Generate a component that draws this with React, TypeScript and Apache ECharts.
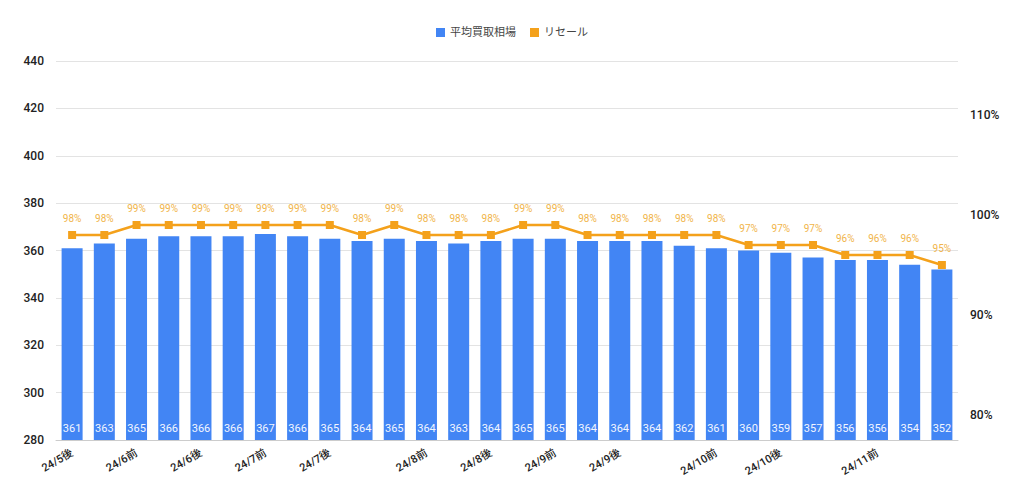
import React, { useEffect, useRef } from "react";
import * as echarts from "echarts";

const categories = [
  "24/5後", "24/5後", "24/6前", "24/6前", "24/6後", "24/6後", "24/7前", "24/7前",
  "24/7後", "24/7後", "24/7後", "24/8前", "24/8前", "24/8後", "24/8後", "24/9前",
  "24/9前", "24/9後", "24/9後", "24/9後", "24/10前", "24/10前", "24/10後", "24/10後",
  "24/10後", "24/11前", "24/11前", "24/11前",
];
const avgPrice = [
  361, 363, 365, 366, 366, 366, 367, 366, 365, 364, 365, 364, 363, 364,
  365, 365, 364, 364, 364, 362, 361, 360, 359, 357, 356, 356, 354, 352,
];
const resale = [
  98, 98, 99, 99, 99, 99, 99, 99, 99, 98, 99, 98, 98, 98,
  99, 99, 98, 98, 98, 98, 98, 97, 97, 97, 96, 96, 96, 95,
];
const leftTicks = [280, 300, 320, 340, 360, 380, 400, 420, 440];
const rightTicks = [80, 90, 100, 110];

const BLUE = "#4285f4";
const ORANGE = "#f4a11b";

export default function App() {
  const ref = useRef<HTMLDivElement>(null);
  useEffect(() => {
    if (!ref.current) return;
    const chart = echarts.init(ref.current, null, { renderer: "svg" });
    chart.setOption({
      animation: false,
      textStyle: { fontFamily: "Roboto, 'Noto Sans CJK JP', sans-serif" },
      legend: {
        top: 22,
        left: "center",
        itemWidth: 9,
        itemHeight: 9,
        itemGap: 14,
        textStyle: { fontSize: 11, color: "#444" },
        data: [
          { name: "平均買取相場", icon: "rect" },
          { name: "リセール", icon: "rect" },
        ],
      },
      grid: { left: 56, right: 66, top: 61, bottom: 56, containLabel: false },
      xAxis: {
        type: "category",
        data: categories,
        axisTick: { show: false },
        axisLine: { lineStyle: { color: "#cccccc" } },
        axisLabel: {
          interval: (i: number) => i === 0 || categories[i] !== categories[i - 1],
          rotate: 30,
          fontSize: 11,
          color: "#222",
          fontWeight: 500,
          margin: 12,
        },
      },
      yAxis: [
        {
          type: "value",
          min: leftTicks[0],
          max: leftTicks[leftTicks.length - 1],
          interval: 20,
          axisLine: { show: false },
          axisTick: { show: false },
          axisLabel: { fontSize: 12, color: "#222", fontWeight: 500, margin: 12 },
          splitLine: { lineStyle: { color: "#e3e3e3" } },
        },
        {
          type: "value",
          min: 77.5,
          max: 115.4,
          axisLine: { show: false },
          axisTick: { show: false },
          splitLine: { show: false },
          axisLabel: {
            customValues: rightTicks,
            formatter: "{value}%",
            fontSize: 12,
            color: "#222",
            fontWeight: 500,
            margin: 12,
          },
        },
      ],
      series: [
        {
          name: "平均買取相場",
          type: "bar",
          data: avgPrice,
          barWidth: 21,
          itemStyle: { color: BLUE },
          label: {
            show: true,
            position: "insideBottom",
            color: "#f2f6ff",
            fontSize: 11,
            distance: 6,
          },
        },
        {
          name: "リセール",
          type: "line",
          yAxisIndex: 1,
          data: resale,
          symbol: "rect",
          symbolSize: 8,
          lineStyle: { color: ORANGE, width: 2.5 },
          itemStyle: { color: ORANGE },
          label: {
            show: true,
            position: "top",
            formatter: "{c}%",
            color: "#f1b54a",
            fontSize: 10,
            distance: 8,
          },
        },
      ],
    });
    return () => chart.dispose();
  }, []);
  return <div ref={ref} style={{ width: 1024, height: 496, margin: -8 }} />;
}
